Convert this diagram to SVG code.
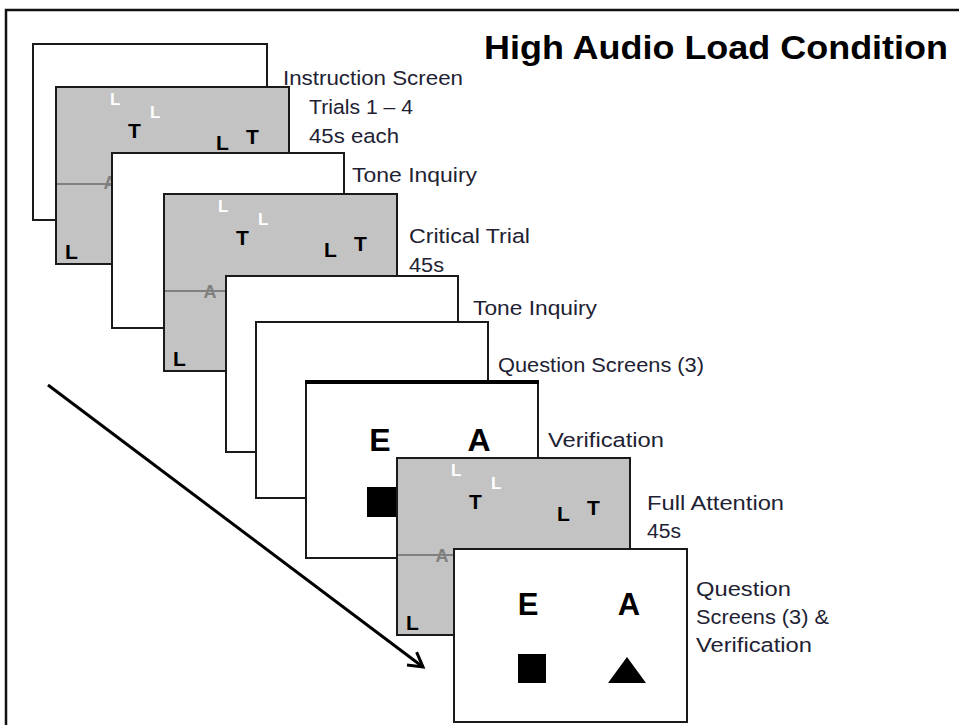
<svg xmlns="http://www.w3.org/2000/svg" width="959" height="725" viewBox="0 0 959 725">
<style>
.frame{fill:none;stroke:#111;stroke-width:2.5}
.pw{fill:#fff;stroke:#1a1a1a;stroke-width:2}
.pg{fill:#c3c3c3;stroke:#1a1a1a;stroke-width:2}
.lbl{font-family:"Liberation Sans",Arial,sans-serif;font-size:20.5px;fill:#1e2233}
.title{font-family:"Liberation Sans",Arial,sans-serif;font-size:34px;font-weight:bold;fill:#000}
.blk{font-family:"Liberation Sans",Arial,sans-serif;font-weight:bold;font-size:21px;fill:#000}
.wht{font-family:"Liberation Sans",Arial,sans-serif;font-weight:bold;font-size:17px;fill:#fff}
.ga{font-family:"Liberation Sans",Arial,sans-serif;font-weight:bold;font-size:18px;fill:#808080;text-anchor:middle}
.big{font-family:"Liberation Sans",Arial,sans-serif;font-weight:bold;font-size:32px;fill:#000;text-anchor:middle}
.track{stroke:#808080;stroke-width:2}
</style>
<defs>
<g id="trial-base">
<rect class="pg" x="0" y="0" width="233" height="177"/>
<text class="wht" x="54" y="18">L</text>
<text class="wht" x="94" y="31">L</text>
<text class="blk" x="72" y="51">T</text>
<text class="blk" x="160" y="63">L</text>
<text class="blk" x="190" y="57">T</text>
<line class="track" x1="1" y1="97" x2="232" y2="97"/>
<text class="blk" x="9" y="172">L</text>
</g>
<marker id="head" markerWidth="20" markerHeight="20" refX="16" refY="10" orient="auto" markerUnits="userSpaceOnUse">
<path d="M2,2 L16,10 L2,18" fill="none" stroke="#000" stroke-width="3"/>
</marker>
</defs>

<path class="frame" d="M6,725 V10 H959"/>

<text class="title" x="484" y="59" textLength="464" lengthAdjust="spacingAndGlyphs">High Audio Load Condition</text>

<g id="connectors">
<line x1="48" y1="385" x2="423" y2="667" stroke="#000" stroke-width="3" marker-end="url(#head)"/>
</g>

<g id="instruction-screen">
<rect class="pw" x="33" y="44" width="234" height="176"/>
</g>
<g id="trials-1-4">
<use href="#trial-base" x="56" y="87"/>
<text class="ga" x="110" y="189">A</text>
</g>
<g id="tone-inquiry-1">
<rect class="pw" x="112" y="153" width="232" height="175"/>
</g>
<g id="critical-trial">
<use href="#trial-base" x="164" y="194"/>
<text class="ga" x="210" y="298">A</text>
</g>
<g id="tone-inquiry-2">
<rect class="pw" x="226" y="276" width="232" height="176"/>
</g>
<g id="question-screens">
<rect class="pw" x="256" y="322" width="232" height="176"/>
</g>
<g id="verification">
<rect class="pw" x="306" y="382" width="232" height="176"/>
<line x1="305" y1="382" x2="539" y2="382" stroke="#000" stroke-width="4"/>
<text class="big" x="380" y="451">E</text>
<text class="big" x="479" y="451">A</text>
<rect x="367" y="487" width="32" height="30" fill="#000"/>
</g>
<g id="full-attention">
<use href="#trial-base" x="397" y="458"/>
<text class="ga" x="442" y="562">A</text>
</g>
<g id="final-question">
<rect class="pw" x="454" y="549" width="233" height="173"/>
<text class="big" x="528" y="615" style="font-size:31px">E</text>
<text class="big" x="629" y="615" style="font-size:31px">A</text>
<rect x="518" y="654" width="28" height="29" fill="#000"/>
<polygon points="627,657 646,683 608,683" fill="#000"/>
</g>

<g id="labels">
<text class="lbl" x="283" y="85" textLength="180" lengthAdjust="spacingAndGlyphs">Instruction Screen</text>
<text class="lbl" x="309" y="114" textLength="104" lengthAdjust="spacingAndGlyphs">Trials 1 – 4</text>
<text class="lbl" x="309" y="143" textLength="90" lengthAdjust="spacingAndGlyphs">45s each</text>
<text class="lbl" x="352" y="182" textLength="125" lengthAdjust="spacingAndGlyphs">Tone Inquiry</text>
<text class="lbl" x="409" y="243" textLength="121" lengthAdjust="spacingAndGlyphs">Critical Trial</text>
<text class="lbl" x="409" y="272" textLength="35" lengthAdjust="spacingAndGlyphs">45s</text>
<text class="lbl" x="473" y="315" textLength="124" lengthAdjust="spacingAndGlyphs">Tone Inquiry</text>
<text class="lbl" x="498" y="372" textLength="206" lengthAdjust="spacingAndGlyphs">Question Screens (3)</text>
<text class="lbl" x="548" y="447" textLength="116" lengthAdjust="spacingAndGlyphs">Verification</text>
<text class="lbl" x="647" y="510" textLength="137" lengthAdjust="spacingAndGlyphs">Full Attention</text>
<text class="lbl" x="647" y="538" textLength="34" lengthAdjust="spacingAndGlyphs">45s</text>
<text class="lbl" x="696" y="596" textLength="95" lengthAdjust="spacingAndGlyphs">Question</text>
<text class="lbl" x="696" y="624" textLength="133" lengthAdjust="spacingAndGlyphs">Screens (3) &amp;</text>
<text class="lbl" x="696" y="652" textLength="116" lengthAdjust="spacingAndGlyphs">Verification</text>
</g>
</svg>
